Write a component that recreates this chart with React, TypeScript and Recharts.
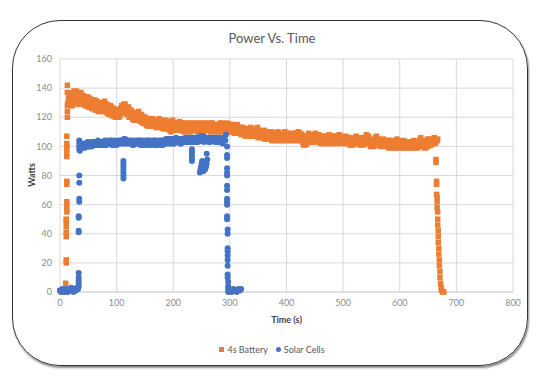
import React from "react";
import { ScatterChart, Scatter, XAxis, YAxis, CartesianGrid } from "recharts";

// Power readings, [time (s), watts]
const batteryRise: number[][] = [
  [0, 1], [3, 0], [6, 1], [9, 2], [10, 6], [11, 20], [11, 22], [11, 38],
  [11, 41], [11, 45], [11, 48], [11, 50], [12, 55], [12, 57], [12, 60],
  [12, 62], [12, 74], [12, 76], [12, 93], [12, 95], [12, 98], [12, 100],
  [12, 102], [12, 107], [13, 120], [13, 124], [13, 128], [13, 142],
];

const batteryBand: number[][] = [
  [13, 137], [16, 130], [19, 135], [22, 128], [25, 138], [28, 131], [31, 136],
  [34, 129], [37, 137], [40, 130], [43, 134], [46, 128], [49, 134], [52, 127],
  [55, 131], [58, 126], [61, 132], [64, 125], [67, 130], [70, 124], [73, 129],
  [76, 126], [79, 131], [82, 123], [85, 128], [88, 122], [91, 127], [94, 121],
  [97, 125], [100, 120], [103, 124], [106, 121], [109, 128], [112, 124],
  [115, 129], [118, 122], [121, 127], [124, 120], [127, 124], [130, 118],
  [133, 123], [136, 119], [139, 124], [142, 117], [145, 121], [148, 116],
  [151, 120], [154, 114], [157, 119], [160, 115], [163, 119], [166, 114],
  [169, 118], [172, 113], [175, 119], [178, 114], [181, 117], [184, 113],
  [187, 118], [190, 112], [193, 117], [196, 110], [199, 118], [202, 113],
  [205, 116], [208, 112], [211, 117], [214, 111], [217, 116], [220, 112],
  [223, 115], [226, 110], [229, 116], [232, 112], [235, 115], [238, 111],
  [241, 116], [244, 112], [247, 115], [250, 110], [253, 116], [256, 112],
  [259, 115], [262, 111], [265, 116], [268, 112], [271, 114], [274, 110],
  [277, 115], [280, 111], [283, 116], [286, 111], [289, 114], [292, 110],
  [295, 116], [298, 112], [301, 115], [304, 110], [307, 114], [310, 111],
  [313, 115], [316, 109], [319, 113], [322, 109], [325, 112], [328, 107],
  [331, 112], [334, 108], [337, 113], [340, 107], [343, 111], [346, 108],
  [349, 113], [352, 107], [355, 110], [358, 106], [361, 111], [364, 105],
  [367, 109], [370, 106], [373, 110], [376, 104], [379, 109], [382, 105],
  [385, 110], [388, 104], [391, 108], [394, 105], [397, 110], [400, 104],
  [403, 109], [406, 105], [409, 108], [412, 104], [415, 109], [418, 105],
  [421, 110], [424, 104], [427, 108], [430, 101], [433, 107], [436, 102],
  [439, 109], [442, 104], [445, 107], [448, 103], [451, 109], [454, 104],
  [457, 108], [460, 102], [463, 107], [466, 103], [469, 106], [472, 102],
  [475, 108], [478, 104], [481, 107], [484, 102], [487, 106], [490, 103],
  [493, 108], [496, 103], [499, 106], [502, 102], [505, 107], [508, 103],
  [511, 106], [514, 101], [517, 105], [520, 102], [523, 107], [526, 103],
  [529, 105], [532, 101], [535, 106], [538, 102], [541, 108], [544, 103],
  [547, 105], [550, 100], [553, 104], [556, 101], [559, 107], [562, 102],
  [565, 104], [568, 100], [571, 105], [574, 101], [577, 104], [580, 99],
  [583, 104], [586, 101], [589, 103], [592, 99], [595, 105], [598, 100],
  [601, 103], [604, 99], [607, 104], [610, 100], [613, 103], [616, 99],
  [619, 102], [622, 100], [625, 104], [628, 99], [631, 102], [634, 100],
  [637, 106], [640, 100], [643, 103], [646, 99], [649, 105], [652, 101],
  [655, 104], [658, 102], [661, 106], [664, 103], [667, 105],
];

const batteryAlt: number[][] = [
  [14, 130], [17, 136], [20, 128], [23, 137], [26, 130], [29, 138], [32, 129],
  [35, 136], [38, 130], [41, 135], [44, 128], [47, 133], [50, 127], [53, 133],
  [56, 126], [59, 131], [62, 125], [65, 131], [68, 124], [71, 130], [74, 124],
  [77, 130], [80, 124], [83, 129], [86, 122], [89, 128], [92, 121], [95, 126],
  [98, 120], [101, 125], [104, 120], [107, 126], [110, 123], [113, 129],
  [116, 123], [119, 127], [122, 120], [125, 125], [128, 119], [131, 123],
  [134, 118], [137, 123], [140, 118], [143, 122], [146, 116], [149, 120],
  [152, 115], [155, 119], [158, 114], [161, 119], [164, 114], [167, 118],
  [170, 113], [173, 118], [176, 113], [179, 118], [182, 112], [185, 117],
  [188, 112], [191, 117], [194, 111], [197, 117], [200, 111], [203, 116],
  [206, 111], [209, 116], [212, 111], [215, 116], [218, 110], [221, 116],
  [224, 111], [227, 115], [230, 110], [233, 116], [236, 111], [239, 115],
  [242, 110], [245, 116], [248, 111], [251, 115], [254, 110], [257, 116],
  [260, 111], [263, 115], [266, 110], [269, 116], [272, 111], [275, 115],
  [278, 110], [281, 115], [284, 110], [287, 116], [290, 110], [293, 115],
  [296, 110], [299, 115], [302, 110], [305, 115], [308, 109], [311, 114],
  [314, 109], [317, 113], [320, 108], [323, 113], [326, 108], [329, 112],
  [332, 107], [335, 112], [338, 107], [341, 112], [344, 107], [347, 111],
  [350, 106], [353, 111], [356, 106], [359, 110], [362, 105], [365, 110],
  [368, 105], [371, 109], [374, 104], [377, 109], [380, 104], [383, 109],
  [386, 104], [389, 109], [392, 104], [395, 108], [398, 104], [401, 109],
  [404, 104], [407, 108], [410, 104], [413, 109], [416, 104], [419, 109],
  [422, 104], [425, 109], [428, 103], [431, 106], [434, 101], [437, 107],
  [440, 103], [443, 108], [446, 103], [449, 108], [452, 103], [455, 108],
  [458, 103], [461, 107], [464, 102], [467, 107], [470, 102], [473, 106],
  [476, 102], [479, 107], [482, 102], [485, 107], [488, 102], [491, 107],
  [494, 102], [497, 107], [500, 102], [503, 106], [506, 102], [509, 106],
  [512, 101], [515, 105], [518, 101], [521, 106], [524, 102], [527, 106],
  [530, 101], [533, 105], [536, 101], [539, 106], [542, 102], [545, 107],
  [548, 100], [551, 104], [554, 100], [557, 106], [560, 101], [563, 105],
  [566, 100], [569, 104], [572, 100], [575, 104], [578, 100], [581, 104],
  [584, 99], [587, 104], [590, 99], [593, 103], [596, 99], [599, 104],
  [602, 99], [605, 103], [608, 99], [611, 103], [614, 99], [617, 103],
  [620, 99], [623, 103], [626, 99], [629, 103], [632, 99], [635, 104],
  [638, 100], [641, 104], [644, 99], [647, 104], [650, 100], [653, 105],
  [656, 101], [659, 105], [662, 102], [665, 104],
];

const batteryMid: number[][] = [
  [15, 133], [18, 132], [21, 131], [24, 133], [27, 134], [30, 133], [33, 132],
  [36, 133], [39, 132], [42, 131], [45, 130], [48, 131], [51, 130], [54, 129],
  [57, 128], [60, 129], [63, 128], [66, 127], [69, 127], [72, 126], [75, 127],
  [78, 128], [81, 127], [84, 125], [87, 125], [90, 124], [93, 124], [96, 123],
  [99, 122], [102, 122], [105, 123], [108, 125], [111, 126], [114, 127],
  [117, 125], [120, 124], [123, 123], [126, 122], [129, 121], [132, 120],
  [135, 121], [138, 121], [141, 120], [144, 119], [147, 118], [150, 117],
  [153, 117], [156, 116], [159, 117], [162, 117], [165, 116], [168, 116],
  [171, 115], [174, 116], [177, 116], [180, 115], [183, 115], [186, 115],
  [189, 115], [192, 114], [195, 115], [198, 114], [201, 115], [204, 114],
  [207, 114], [210, 114], [213, 114], [216, 113], [219, 114], [222, 113],
  [225, 113], [228, 113], [231, 114], [234, 113], [237, 113], [240, 113],
  [243, 114], [246, 113], [249, 113], [252, 113], [255, 114], [258, 113],
  [261, 113], [264, 113], [267, 114], [270, 113], [273, 112], [276, 113],
  [279, 113], [282, 113], [285, 113], [288, 113], [291, 112], [294, 113],
  [297, 113], [300, 112], [303, 112], [306, 112], [309, 112], [312, 113],
  [315, 112], [318, 111], [321, 111], [324, 110], [327, 110], [330, 110],
  [333, 110], [336, 110], [339, 110], [342, 109], [345, 110], [348, 110],
  [351, 109], [354, 109], [357, 108], [360, 108], [363, 108], [366, 107],
  [369, 107], [372, 108], [375, 107], [378, 107], [381, 107], [384, 107],
  [387, 107], [390, 106], [393, 106], [396, 107], [399, 107], [402, 106],
  [405, 107], [408, 106], [411, 106], [414, 106], [417, 107], [420, 107],
  [423, 107], [426, 106], [429, 104], [432, 104], [435, 105], [438, 105],
  [441, 106], [444, 105], [447, 105], [450, 106], [453, 106], [456, 106],
  [459, 105], [462, 105], [465, 105], [468, 104], [471, 104], [474, 105],
  [477, 106], [480, 105], [483, 105], [486, 104], [489, 104], [492, 105],
  [495, 105], [498, 104], [501, 104], [504, 105], [507, 105], [510, 104],
  [513, 103], [516, 103], [519, 104], [522, 104], [525, 105], [528, 104],
  [531, 103], [534, 103], [537, 104], [540, 105], [543, 105], [546, 104],
  [549, 102], [552, 102], [555, 103], [558, 104], [561, 104], [564, 103],
  [567, 102], [570, 103], [573, 103], [576, 102], [579, 102], [582, 102],
  [585, 102], [588, 102], [591, 101], [594, 102], [597, 102], [600, 101],
  [603, 101], [606, 102], [609, 102], [612, 101], [615, 101], [618, 101],
  [621, 101], [624, 102], [627, 101], [630, 101], [633, 101], [636, 103],
  [639, 102], [642, 101], [645, 101], [648, 102], [651, 103], [654, 102],
  [657, 103], [660, 104], [663, 104], [666, 104],
];

const batteryDrop: number[][] = [
  [664, 91], [664, 89], [665, 76], [665, 74], [665, 67], [666, 65], [666, 62],
  [666, 58], [667, 55], [667, 50], [667, 46], [668, 42], [668, 38], [668, 34],
  [669, 30], [669, 26], [670, 22], [670, 18], [671, 14], [671, 10], [672, 6],
  [673, 3], [674, 1], [676, 0], [678, 0],
];

const solarStart: number[][] = [
  [0, 1], [2, 0], [4, 2], [6, 1], [8, 0], [10, 2], [12, 1], [14, 0], [16, 2],
  [18, 1], [20, 3], [22, 1], [24, 0], [26, 2], [28, 1], [30, 3], [32, 2],
  [33, 4], [33, 6], [33, 8], [33, 10], [33, 13], [33, 41], [33, 42], [33, 51],
  [33, 52], [34, 62], [34, 64], [34, 75], [34, 80], [34, 98], [34, 100],
  [34, 102], [34, 104],
];

const solarBand: number[][] = [
  [35, 97], [36, 101], [38, 99], [41, 101], [44, 99], [47, 102], [50, 100],
  [53, 102], [56, 100], [59, 103], [62, 101], [65, 103], [68, 101], [71, 103],
  [74, 101], [77, 103], [80, 101], [83, 103], [86, 102], [89, 104], [92, 101],
  [95, 103], [98, 101], [101, 103], [104, 102], [107, 104], [110, 102],
  [113, 105], [116, 102], [119, 104], [122, 102], [125, 104], [128, 101],
  [131, 103], [134, 102], [137, 104], [140, 102], [143, 104], [146, 101],
  [149, 103], [152, 102], [155, 104], [158, 101], [161, 103], [164, 102],
  [167, 104], [170, 101], [173, 103], [176, 102], [179, 104], [182, 101],
  [185, 104], [188, 102], [191, 105], [194, 102], [197, 105], [200, 102],
  [203, 105], [206, 103], [209, 105], [212, 102], [215, 104], [218, 103],
  [221, 106], [224, 103], [227, 105], [230, 103], [233, 106], [236, 103],
  [239, 105], [242, 103], [245, 106], [248, 104], [251, 107], [254, 103],
  [257, 106], [260, 104], [263, 106], [266, 103], [269, 106], [272, 104],
  [275, 106], [278, 103], [281, 105], [284, 104], [287, 102], [290, 106],
  [293, 108],
];

const solarAlt: number[][] = [
  [37, 102], [40, 99], [43, 102], [46, 100], [49, 103], [52, 100], [55, 103],
  [58, 101], [61, 103], [64, 101], [67, 104], [70, 101], [73, 103], [76, 101],
  [79, 104], [82, 101], [85, 104], [88, 102], [91, 104], [94, 101], [97, 104],
  [100, 101], [103, 104], [106, 102], [109, 104], [112, 102], [115, 105],
  [118, 102], [121, 104], [124, 102], [127, 104], [130, 101], [133, 104],
  [136, 102], [139, 104], [142, 101], [145, 104], [148, 101], [151, 104],
  [154, 101], [157, 104], [160, 101], [163, 104], [166, 101], [169, 104],
  [172, 101], [175, 104], [178, 101], [181, 104], [184, 102], [187, 105],
  [190, 102], [193, 105], [196, 102], [199, 105], [202, 102], [205, 106],
  [208, 103], [211, 105], [214, 102], [217, 105], [220, 103], [223, 106],
  [226, 103], [229, 106], [232, 103], [235, 106], [238, 103], [241, 106],
  [244, 103], [247, 107], [250, 104], [253, 107], [256, 104], [259, 106],
  [262, 103], [265, 106], [268, 104], [271, 106], [274, 103], [277, 106],
  [280, 103], [283, 106], [286, 104], [289, 105], [292, 104],
];

const solarDips: number[][] = [
  [112, 78], [112, 80], [112, 82], [112, 84], [112, 86], [112, 88], [112, 90],
  [233, 90], [233, 92], [233, 94], [233, 96], [233, 98],
  [247, 82], [248, 84], [249, 86], [250, 88], [251, 90], [252, 85], [253, 83],
  [254, 87], [255, 89], [256, 84], [258, 86], [259, 88], [260, 91], [259, 95],
];

const solarDrop: number[][] = [
  [295, 100], [295, 94], [295, 92], [295, 85], [295, 82], [295, 80],
  [295, 73], [295, 70], [295, 64], [295, 62], [295, 60], [295, 52], [295, 50],
  [296, 43], [296, 40], [296, 30], [296, 28], [296, 25], [296, 22], [296, 18],
  [296, 12], [296, 10], [297, 7], [297, 4], [297, 2], [297, 0], [300, 1],
  [303, 0], [306, 2], [309, 1], [312, 0], [315, 2], [318, 1], [320, 2],
];

const xTicks = [0, 100, 200, 300, 400, 500, 600, 700, 800];
const yTicks = [0, 20, 40, 60, 80, 100, 120, 140, 160];

const toPoints = (rows: number[][][]) =>
  rows.flat().map(([t, w]) => ({ t, w }));

const batteryData = toPoints([
  batteryRise,
  batteryBand,
  batteryAlt,
  batteryMid,
  batteryDrop,
]);
const solarData = toPoints([solarStart, solarBand, solarAlt, solarDips, solarDrop]);

const ORANGE = "#ED7D31";
const BLUE = "#4472C4";
const FONT = "Lato, 'Open Sans', sans-serif";

// excel-ish markers
const squareMark = (p: any) => (
  <rect x={p.cx - 2.75} y={p.cy - 2.75} width={5.5} height={5.5} fill={ORANGE} />
);
const dotMark = (p: any) => <circle cx={p.cx} cy={p.cy} r={3} fill={BLUE} />;

export default function App() {
  const tickStyle = { fontSize: 9, fill: "#8c8c8c", fontFamily: FONT };
  return (
    <div
      style={{
        position: "absolute",
        left: 0,
        top: 0,
        width: 544,
        height: 392,
        background: "#fff",
        fontFamily: FONT,
      }}
    >
      <div
        style={{
          position: "absolute",
          left: 12,
          top: 20,
          width: 514,
          height: 344,
          border: "1.5px solid #333",
          borderRadius: 48,
          boxShadow: "1px 2px 2px rgba(0,0,0,0.45)",
        }}
      />
      <div
        style={{
          position: "absolute",
          left: 0,
          width: 544,
          top: 30,
          textAlign: "center",
          fontSize: 13,
          color: "#595959",
        }}
      >
        Power Vs. Time
      </div>
      <div style={{ position: "absolute", left: 0, top: 0 }}>
        <ScatterChart
          width={544}
          height={392}
          margin={{ top: 59, right: 31, bottom: 80, left: 30 }}
        >
          <CartesianGrid stroke="#d9d9d9" strokeWidth={1} />
          <XAxis
            type="number"
            dataKey="t"
            domain={[0, 800]}
            ticks={xTicks}
            height={20}
            tickLine={false}
            axisLine={{ stroke: "#d0d0d0" }}
            tick={tickStyle}
          />
          <YAxis
            type="number"
            dataKey="w"
            domain={[0, 160]}
            ticks={yTicks}
            width={30}
            tickLine={false}
            axisLine={false}
            tick={tickStyle}
          />
          <Scatter
            name="4s Battery"
            data={batteryData}
            fill={ORANGE}
            shape={squareMark}
            isAnimationActive={false}
          />
          <Scatter
            name="Solar Cells"
            data={solarData}
            fill={BLUE}
            shape={dotMark}
            isAnimationActive={false}
          />
        </ScatterChart>
      </div>
      <div
        style={{
          position: "absolute",
          left: 60,
          width: 453,
          top: 314,
          textAlign: "center",
          fontSize: 9,
          fontWeight: "bold",
          color: "#404040",
        }}
      >
        Time (s)
      </div>
      <div
        style={{
          position: "absolute",
          left: 31,
          top: 175,
          transform: "translate(-50%, -50%) rotate(-90deg)",
          fontSize: 9,
          fontWeight: "bold",
          color: "#404040",
        }}
      >
        Watts
      </div>
      <div
        style={{
          position: "absolute",
          left: 0,
          width: 544,
          top: 344,
          display: "flex",
          justifyContent: "center",
          alignItems: "center",
          gap: 8,
          fontSize: 9,
          color: "#595959",
        }}
      >
        <span style={{ display: "flex", alignItems: "center", gap: 3 }}>
          <span style={{ width: 5, height: 5, background: ORANGE }} />
          4s Battery
        </span>
        <span style={{ display: "flex", alignItems: "center", gap: 3 }}>
          <span
            style={{ width: 5, height: 5, borderRadius: 3, background: BLUE }}
          />
          Solar Cells
        </span>
      </div>
    </div>
  );
}
